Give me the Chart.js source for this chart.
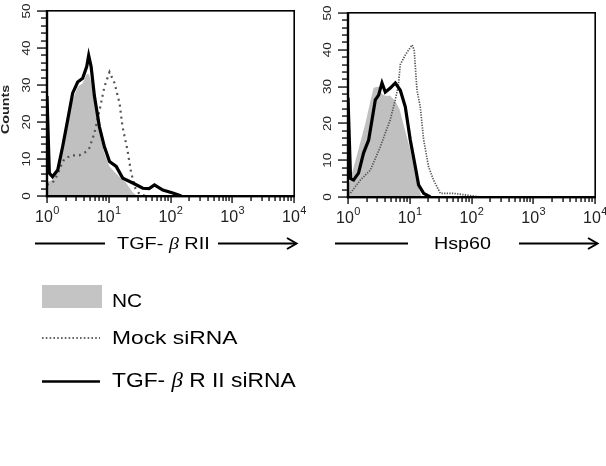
<!DOCTYPE html>
<html><head><meta charset="utf-8">
<script src="https://cdn.jsdelivr.net/npm/chart.js@4.4.1/dist/chart.umd.min.js"></script>
<style>
html,body{margin:0;padding:0;background:#fff;}
#wrap{position:relative;width:606px;height:466px;overflow:hidden;font-family:'Liberation Sans',Arial,sans-serif;background:#fff;}
.cv{position:absolute;}
.lbl{position:absolute;white-space:nowrap;color:#000;line-height:1;transform-origin:0 50%;}
.beta{font-family:'Liberation Serif','DejaVu Serif',serif;font-style:italic;}
svg{position:absolute;left:0;top:0;}
</style></head><body>
<div id="wrap">
  <div class="cv" style="left:0;top:0;width:310px;height:232px"><canvas id="c1"></canvas></div>
  <div class="cv" style="left:300px;top:0;width:306px;height:233px"><canvas id="c2"></canvas></div>
  <svg width="606" height="466">
    <line x1="35" y1="243.5" x2="105" y2="243.5" stroke="#000" stroke-width="1.8"/>
    <line x1="218" y1="243.5" x2="296" y2="243.5" stroke="#000" stroke-width="1.8"/>
    <polyline points="287,238 296.5,243.5 287,249" fill="none" stroke="#000" stroke-width="2"/>
    <line x1="335" y1="243.5" x2="408" y2="243.5" stroke="#000" stroke-width="1.8"/>
    <line x1="519" y1="243.5" x2="597" y2="243.5" stroke="#000" stroke-width="1.8"/>
    <polyline points="588,238 597.5,243.5 588,249" fill="none" stroke="#000" stroke-width="2"/>
    <rect x="42" y="285" width="60" height="23" fill="#c4c4c4"/>
    <line x1="42" y1="338" x2="100" y2="338" stroke="#333" stroke-width="1.6" stroke-dasharray="1.6 2.2"/>
    <line x1="42" y1="381.5" x2="100" y2="381.5" stroke="#000" stroke-width="2.6"/>
  </svg>
  <div class="lbl" style="left:117px;top:235px;font-size:17px;transform:scaleX(1.17)">TGF- <span class="beta">β</span> RII</div>
  <div class="lbl" style="left:434px;top:235px;font-size:17px;transform:scaleX(1.16)">Hsp60</div>
  <div class="lbl" style="left:112px;top:291px;font-size:19px;transform:scaleX(1.1)">NC</div>
  <div class="lbl" style="left:112px;top:328px;font-size:19px;transform:scaleX(1.2)">Mock siRNA</div>
  <div class="lbl" style="left:112px;top:370px;font-size:20px;transform:scaleX(1.14)">TGF- <span class="beta">β</span> R II siRNA</div>
</div>
<script>
// ---- data (fluorescence intensity, counts) ----
const xTickExponents = [0, 1, 2, 3, 4];
const yTickLabels = ['0', '10', '20', '30', '40', '50'];
const yMinorStep = 2;

const leftNCx  = [1, 1.1, 1.25, 1.5, 1.8, 2.16, 2.6, 3.14, 3.78, 4.4, 4.73, 5.18, 5.86, 7.06, 8.5, 10.3, 13.2, 19.2, 24.3, 29];
const leftNCy  = [4, 4, 4.5, 6.5, 12, 19, 26, 29.5, 30.5, 33, 33, 31, 25, 17, 11.5, 8, 6, 3.5, 1, 0];
const leftMockX = [1, 1.3, 1.5, 1.77, 1.91, 2.48, 3.34, 4.35, 4.86, 5.86, 7.06, 8.5, 10.3, 12.4, 15, 16.7, 20.1, 23.1, 27.1, 31.6, 40];
const leftMockY = [3, 4, 6, 9, 10, 11, 11, 12, 13, 17, 23, 29.5, 33.5, 30.5, 25, 18.7, 12.4, 6.2, 2, 0.5, 0];
const leftTGFx = [1, 1.01, 1.09, 1.23, 1.49, 1.79, 2.16, 2.6, 3.14, 3.78, 4.4, 4.73, 5.18, 5.86, 7.06, 8.5, 10.3, 13.2, 16.9, 24.5, 35.6, 45, 55, 75, 109, 150];
const leftTGFy = [27, 27, 6.2, 5.2, 7, 13.3, 20.5, 27.8, 30.8, 31.8, 35, 38, 35, 27, 18.7, 13.3, 9.3, 8, 4.8, 3.5, 2.1, 2, 3, 1.6, 0.8, 0];

const rightNCx  = [1, 1.1, 1.23, 1.48, 1.91, 2.3, 2.6, 3.13, 3.55, 4.02, 4.84, 5.83, 6.8, 7.86, 10.2, 13.1, 15.4];
const rightNCy  = [3, 5, 8, 13, 20, 26, 29.7, 30, 28, 27.5, 27.5, 26, 24, 20, 12.8, 4.6, 0];
const rightMockX = [1, 1.09, 1.58, 2.3, 3.33, 4.02, 4.84, 5.83, 6.5, 7.03, 8.47, 10.9, 11.8, 13.1, 14.8, 16.8, 20.2, 24.3, 31.3, 50, 84.5, 140];
const rightMockY = [1, 1, 4.6, 7.3, 13.6, 17.4, 21, 26.4, 30, 36, 38.6, 41.3, 40, 29, 24.5, 15.5, 8.2, 4.6, 1, 1, 0.5, 0];
const rightTGFx = [1, 1.01, 1.1, 1.23, 1.48, 1.79, 2.16, 2.45, 2.77, 3.13, 3.55, 4.02, 4.84, 5.83, 7.03, 8.47, 10.2, 12.3, 13.9, 16.8, 21.5];
const rightTGFy = [27, 27, 5, 4.6, 6.5, 12, 15.5, 21, 26.4, 27.7, 31, 28.5, 29.6, 31, 29, 24.5, 15.5, 8.2, 3.3, 1, 0];

function pts(xs, ys) { return xs.map((x, i) => ({ x: x, y: ys[i] })); }

const framePlugin = {
  id: 'frame',
  afterDraw(chart, args, opts) {
    const ctx = chart.ctx, a = chart.chartArea, xs = chart.scales.x, ys = chart.scales.y;
    ctx.save();
    ctx.fillStyle = '#000';
    const L = Math.round(a.left), R = Math.round(a.right), T = Math.round(a.top), B = Math.round(a.bottom);
    // frame
    ctx.fillRect(L - 1, T - 1, R - L + 2, 1.6);        // top
    ctx.fillRect(R - 0.6, T - 1, 1.6, B - T + 2);      // right
    ctx.fillRect(L - 1.2, T - 1, 2.4, B - T + 2.2);    // left
    ctx.fillRect(L - 1.2, B - 1, R - L + 2.2, 2.4);    // bottom
    // y tick marks (major every 10, minor every 2)
    for (let v = 0; v <= 50; v += yMinorStep) {
      const py = Math.round(ys.getPixelForValue(v));
      const len = (v % 10 === 0) ? 10 : 6;
      ctx.fillRect(L - len, py - 0.6, len, 1.3);
    }
    // x tick marks (log decades with 2..9 minors)
    xTickExponents.forEach((e, k) => {
      const top = k === xTickExponents.length - 1 ? 1 : 9;
      for (let m = 1; m <= top; m++) {
        const px = Math.round(xs.getPixelForValue(m * Math.pow(10, e)));
        const len = m === 1 ? 7 : 5;
        ctx.fillRect(px - 0.6, B, 1.3, len);
      }
    });
    ctx.fillStyle = '#222';
    // y labels (rotated)
    yTickLabels.forEach(l => {
      const py = ys.getPixelForValue(Number(l));
      ctx.save();
      ctx.translate(a.left - 20, py);
      ctx.rotate(-Math.PI / 2);
      ctx.scale(1.35, 1);
      ctx.font = '10px "Liberation Sans", Arial, sans-serif';
      ctx.textAlign = 'center'; ctx.textBaseline = 'middle';
      ctx.fillText(l, 0, 0.5);
      ctx.restore();
    });
    if (opts.title) {
      ctx.save();
      ctx.translate(6, (a.top + a.bottom) / 2 + 6);
      ctx.rotate(-Math.PI / 2);
      ctx.scale(1.3, 1);
      ctx.font = 'bold 11px "Liberation Sans", Arial, sans-serif';
      ctx.textAlign = 'center'; ctx.textBaseline = 'middle';
      ctx.fillText(opts.title, 0, 0);
      ctx.restore();
    }
    // x labels 10^n
    xTickExponents.forEach(e => {
      const px = xs.getPixelForValue(Math.pow(10, e));
      ctx.font = '16px "Liberation Sans", Arial, sans-serif';
      const w1 = ctx.measureText('10').width;
      ctx.font = '11px "Liberation Sans", Arial, sans-serif';
      const w2 = ctx.measureText(String(e)).width;
      const x0 = px - (w1 + w2) / 2;
      ctx.textAlign = 'left'; ctx.textBaseline = 'alphabetic';
      ctx.font = '16px "Liberation Sans", Arial, sans-serif';
      ctx.fillText('10', x0, a.bottom + 26);
      ctx.font = '11px "Liberation Sans", Arial, sans-serif';
      ctx.fillText(String(e), x0 + w1 + 0.5, a.bottom + 18);
    });
    ctx.restore();
  }
};

function makeChart(id, nc, mock, tgf, cfg) {
  return new Chart(document.getElementById(id), {
    type: 'line',
    data: {
      datasets: [
        { label: 'NC', data: nc, order: 3, fill: 'origin', backgroundColor: '#c0c0c0', borderWidth: 0, borderColor: 'rgba(0,0,0,0)' },
        { label: 'Mock siRNA', data: mock, order: 2, fill: false, borderColor: cfg.dotColor, borderWidth: cfg.dotWidth, borderDash: cfg.dash },
        { label: 'TGF-β R II siRNA', data: tgf, order: 1, fill: false, borderColor: '#000', borderWidth: 3.2 }
      ]
    },
    options: {
      responsive: true, maintainAspectRatio: false, animation: false,
      layout: { padding: cfg.pad },
      plugins: { legend: { display: false }, tooltip: { enabled: false }, frame: { title: cfg.title } },
      elements: { point: { radius: 0, hoverRadius: 0 }, line: { tension: 0, borderJoinStyle: 'miter' } },
      scales: {
        x: { type: 'logarithmic', min: 1, max: 10000, grid: { display: false }, border: { display: false },
             ticks: { display: false }, afterFit(s) { s.height = cfg.xh; } },
        y: { type: 'linear', min: 0, max: 50, grid: { display: false }, border: { display: false },
             ticks: { display: false, stepSize: 2 }, afterFit(s) { s.width = cfg.yw; } }
      }
    },
    plugins: [framePlugin]
  });
}

makeChart('c1', pts(leftNCx, leftNCy), pts(leftMockX, leftMockY), pts(leftTGFx, leftTGFy),
  { pad: { left: 0, top: 11, right: 16, bottom: 0 }, yw: 47, xh: 36, title: 'Counts', dash: [2, 4], dotColor: '#555', dotWidth: 2.2 });
makeChart('c2', pts(rightNCx, rightNCy), pts(rightMockX, rightMockY), pts(rightTGFx, rightTGFy),
  { pad: { left: 0, top: 13, right: 11, bottom: 0 }, yw: 48, xh: 36, title: '', dash: [1.3, 1.3], dotColor: '#555', dotWidth: 1.7 });
</script>
</body></html>
